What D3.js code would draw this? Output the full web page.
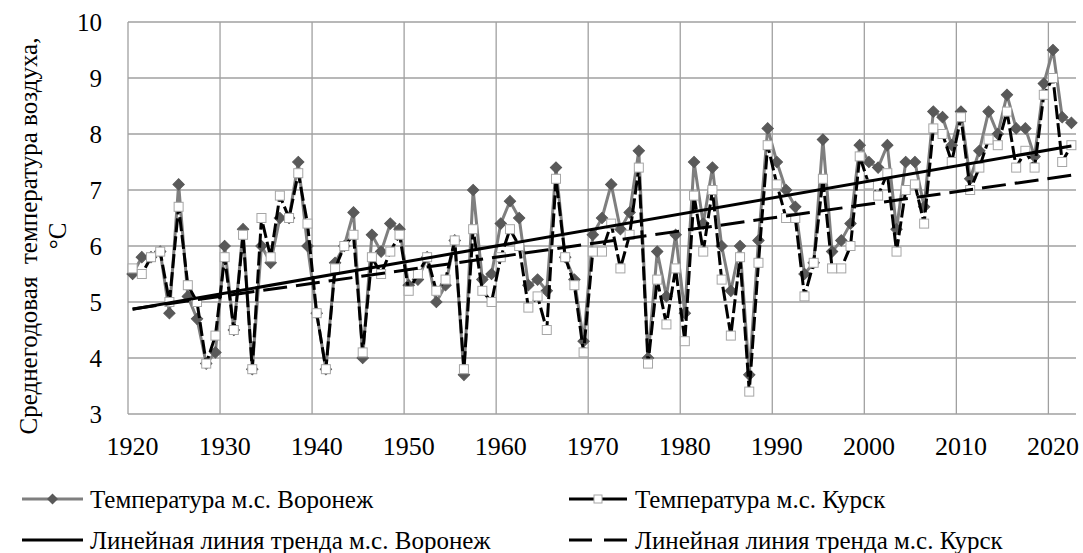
<!DOCTYPE html>
<html><head><meta charset="utf-8">
<script src="https://cdn.jsdelivr.net/npm/d3@7"></script>
<style>
html,body{margin:0;padding:0;background:#fff;}
text{font-family:"Liberation Serif","Times New Roman",serif;fill:#000;}
</style></head>
<body><svg id="c" width="1083" height="553"></svg>
<script>
const years = d3.range(1920, 2023);
const voronezh = [5.5,5.8,5.8,5.9,4.8,7.1,5.1,4.7,3.9,4.1,
  6.0,4.5,6.3,3.8,6.0,5.7,6.5,6.5,7.5,6.0,
  4.8,3.8,5.7,6.0,6.6,4.0,6.2,5.9,6.4,6.3,
  5.3,5.4,5.8,5.0,5.3,6.1,3.7,7.0,5.4,5.5,
  6.4,6.8,6.5,5.3,5.4,5.2,7.4,5.8,5.4,4.3,
  6.2,6.5,7.1,6.3,6.6,7.7,4.0,5.9,5.1,6.2,
  4.8,7.5,6.4,7.4,6.0,5.2,6.0,3.7,6.1,8.1,
  7.5,7.0,6.7,5.5,5.7,7.9,5.9,6.1,6.4,7.8,
  7.5,7.4,7.8,6.3,7.5,7.5,6.7,8.4,8.3,7.8,
  8.4,7.2,7.7,8.4,8.0,8.7,8.1,8.1,7.6,8.9,
  9.5,8.3,8.2];
const kursk = [5.6,5.5,5.8,5.9,5.0,6.7,5.3,5.0,3.9,4.4,
  5.8,4.5,6.2,3.8,6.5,5.8,6.9,6.5,7.3,6.4,
  4.8,3.8,5.6,6.0,6.2,4.1,5.8,5.5,5.9,6.2,
  5.2,5.5,5.8,5.2,5.4,6.1,3.8,6.3,5.2,5.0,
  5.8,6.3,6.0,4.9,5.1,4.5,7.2,5.8,5.3,4.1,
  5.9,5.9,6.4,5.6,6.2,7.4,3.9,5.4,4.6,5.6,
  4.3,6.9,5.9,7.0,5.4,4.4,5.8,3.4,5.7,7.8,
  7.1,6.5,6.5,5.1,5.7,7.2,5.6,5.6,6.0,7.6,
  7.1,6.9,7.3,5.9,7.0,7.1,6.4,8.1,8.0,7.5,
  8.3,7.0,7.4,7.9,7.8,8.4,7.4,7.7,7.4,8.7,
  9.0,7.5,7.8];
const yTicks = [3,4,5,6,7,8,9,10];
const xTickYears = [1920,1930,1940,1950,1960,1970,1980,1990,2000,2010,2020];
const titleLine1 = "Среднегодовая  температура воздуха,";
const titleLine2 = "°С";
const legendLabels = ["Температура м.с. Воронеж","Температура м.с. Курск",
  "Линейная линия тренда м.с. Воронеж","Линейная линия тренда м.с. Курск"];

const svg = d3.select("#c");
svg.append("rect").attr("width",1083).attr("height",553).attr("fill","#fff");
const L=128, R=1076, T=22, B=414;
const x = d3.scaleBand().domain(years).range([L,R]).paddingInner(0).paddingOuter(0);
const bw = x.bandwidth();
const cx = yr => x(yr) + bw/2;
const y = d3.scaleLinear().domain([3,10]).range([B,T]);
const grid = "#a0a0a0";
const serif = '"Liberation Serif","Times New Roman",serif';

// grid
svg.append("g").selectAll("line").data(yTicks).join("line")
  .attr("x1",L).attr("x2",R).attr("y1",d=>y(d)).attr("y2",d=>y(d))
  .attr("stroke",grid).attr("stroke-width",1.3);
svg.append("g").selectAll("line").data(xTickYears).join("line")
  .attr("x1",d=>x(d)).attr("x2",d=>x(d)).attr("y1",T).attr("y2",B)
  .attr("stroke",grid).attr("stroke-width",1.3);

// axes labels
const ax = svg.append("g").attr("transform",`translate(0,${B})`)
  .call(d3.axisBottom(x).tickValues(xTickYears).tickSize(0).tickPadding(0));
ax.select(".domain").remove();
ax.attr("font-family",serif);
ax.selectAll("text").attr("y",41).attr("dy",null).style("font-size","26px")
  .style("font-family",serif).attr("fill","#000");
const ay = svg.append("g").attr("transform",`translate(${L},0)`)
  .call(d3.axisLeft(y).tickValues(yTicks).tickFormat(d3.format("d")).tickSize(0).tickPadding(26));
ay.select(".domain").remove();
ay.attr("font-family",serif);
ay.selectAll("text").style("font-size","25px")
  .style("font-family",serif).attr("fill","#000");

// title
svg.append("text").attr("transform","translate(37,236) rotate(-90)")
  .attr("text-anchor","middle").style("font-size","25px").style("white-space","pre")
  .text(titleLine1);
svg.append("text").attr("transform","translate(66,236) rotate(-90)")
  .attr("text-anchor","middle").style("font-size","25px").text(titleLine2);

// series
const dv = years.map((yr,i)=>({yr, v:voronezh[i]}));
const dk = years.map((yr,i)=>({yr, v:kursk[i]}));
const line = d3.line().x(d=>cx(d.yr)).y(d=>y(d.v));
svg.append("path").datum(dv).attr("d",line).attr("fill","none")
  .attr("stroke","#7f7f7f").attr("stroke-width",3).attr("stroke-linejoin","round");
svg.append("g").selectAll("path").data(dv).join("path")
  .attr("d",d3.symbol().type(d3.symbolSquare).size(64))
  .attr("transform",d=>`translate(${cx(d.yr)},${y(d.v)}) rotate(45)`)
  .attr("fill","#595959").attr("stroke","#595959").attr("stroke-width",1);

svg.append("path").datum(dk).attr("d",line).attr("fill","none")
  .attr("stroke","#000").attr("stroke-width",3).attr("stroke-dasharray","14,4")
  .attr("stroke-linejoin","round");
svg.append("g").selectAll("rect").data(dk).join("rect")
  .attr("x",d=>cx(d.yr)-4.5).attr("y",d=>y(d.v)-4.5).attr("width",9).attr("height",9)
  .attr("fill","#fff").attr("stroke","#a6a6a6").attr("stroke-width",1);

// trend lines (least squares from the data)
function fit(vals){
  const n=vals.length, xs=years;
  const mx=d3.mean(xs), my=d3.mean(vals);
  let sxy=0,sxx=0; xs.forEach((xx,i)=>{sxy+=(xx-mx)*(vals[i]-my); sxx+=(xx-mx)*(xx-mx);});
  const b=sxy/sxx, a=my-b*mx;
  return [{yr:xs[0], v:a+b*xs[0]},{yr:xs[n-1], v:a+b*xs[n-1]}];
}
svg.append("path").datum(fit(voronezh)).attr("d",line).attr("stroke","#000")
  .attr("stroke-width",3).attr("fill","none");
svg.append("path").datum(fit(kursk)).attr("d",line).attr("stroke","#000")
  .attr("stroke-width",3).attr("fill","none").attr("stroke-dasharray","24,9");

// legend
const lg = svg.append("g");
const rows = [
  {x1:22,x2:83,tx:90,ly:499,ty:508,type:"v"},
  {x1:569,x2:627,tx:635,ly:499,ty:508,type:"k"},
  {x1:22,x2:83,tx:90,ly:540,ty:549,type:"tv"},
  {x1:569,x2:627,tx:635,ly:540,ty:549,type:"tk"}];
rows.forEach((r,i)=>{
  if(r.type==="v"){
    lg.append("line").attr("x1",r.x1).attr("x2",r.x2).attr("y1",r.ly).attr("y2",r.ly)
      .attr("stroke","#7f7f7f").attr("stroke-width",3);
    lg.append("path").attr("d",d3.symbol().type(d3.symbolSquare).size(60))
      .attr("transform",`translate(${(r.x1+r.x2)/2},${r.ly}) rotate(45)`).attr("fill","#595959");
  } else if(r.type==="k"){
    lg.append("line").attr("x1",r.x1).attr("x2",r.x2).attr("y1",r.ly).attr("y2",r.ly)
      .attr("stroke","#000").attr("stroke-width",3);
    const m=(r.x1+r.x2)/2;
    lg.append("rect").attr("x",m-4).attr("y",r.ly-4).attr("width",8).attr("height",8)
      .attr("fill","#fff").attr("stroke","#a6a6a6");
  } else if(r.type==="tv"){
    lg.append("line").attr("x1",r.x1).attr("x2",r.x2).attr("y1",r.ly).attr("y2",r.ly)
      .attr("stroke","#000").attr("stroke-width",3);
  } else {
    lg.append("line").attr("x1",r.x1).attr("x2",r.x2).attr("y1",r.ly).attr("y2",r.ly)
      .attr("stroke","#000").attr("stroke-width",3).attr("stroke-dasharray","23,12");
  }
  lg.append("text").attr("x",r.tx).attr("y",r.ty).style("font-size","25px").text(legendLabels[i]);
});
</script></body></html>
